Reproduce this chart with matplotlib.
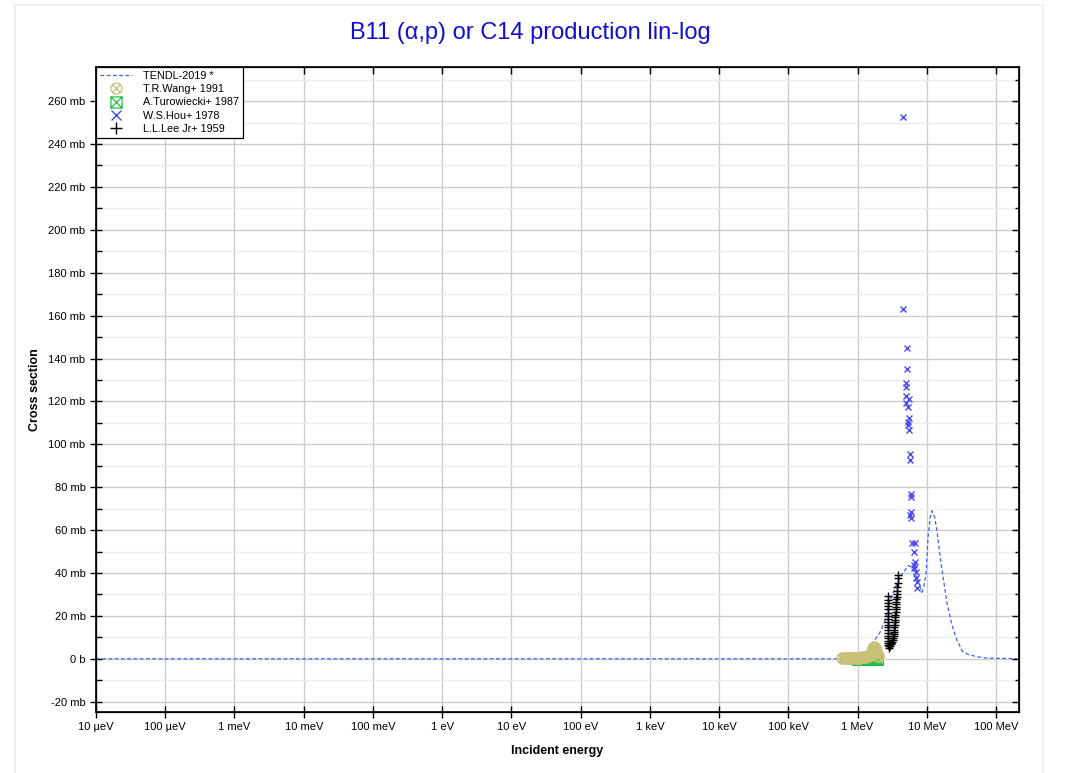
import matplotlib
matplotlib.use("Agg")
import matplotlib.pyplot as plt
from matplotlib.patches import Rectangle
from matplotlib.path import Path
from matplotlib.ticker import FixedLocator, FuncFormatter, MultipleLocator, NullFormatter

plt.rcParams["font.family"] = ["Liberation Sans", "DejaVu Sans"]

# TENDL-2019 evaluation (energy in eV, cross section in mb)
tendl_e = [1e-5, 1e3, 1e5, 9.0e5, 1.0e6, 1.2e6, 1.4e6, 1.66e6, 2.0e6, 2.2e6, 2.5e6,
           2.76e6, 3.2e6, 3.7e6, 4.3e6, 4.9e6, 5.4e6, 6.2e6, 7.2e6, 8.0e6, 8.5e6,
           9.0e6, 9.8e6, 10.4e6, 11.2e6, 11.9e6, 13.0e6, 14.0e6, 16.0e6, 19.6e6,
           23.0e6, 27.0e6, 33.0e6, 40.0e6, 53.0e6, 70.0e6, 100.0e6, 200.0e6]
tendl_xs = [0.0, 0.0, 0.0, 0.0, 0.3, 2.0, 4.0, 7.5, 11.0, 13.5, 18.0,
            24.0, 30.0, 35.0, 39.0, 41.5, 43.5, 42.5, 38.0, 33.5, 31.0,
            33.0, 40.0, 56.0, 66.0, 69.0, 66.0, 60.0, 45.0, 26.0,
            16.0, 9.0, 3.3, 2.0, 1.0, 0.4, 0.2, 0.1]

# T.R.Wang+ 1991
wang_e = [0.60e6, 0.64e6, 0.68e6, 0.72e6, 0.76e6, 0.80e6, 0.85e6, 0.90e6, 0.95e6,
          1.00e6, 1.05e6, 1.10e6, 1.16e6, 1.22e6, 1.28e6, 1.34e6, 1.40e6, 1.46e6,
          1.52e6, 1.57e6, 1.62e6, 1.66e6, 1.70e6, 1.74e6, 1.78e6, 1.82e6, 1.86e6,
          1.90e6, 1.95e6, 2.0e6]
wang_xs = [0.4, 0.5, 0.4, 0.5, 0.4, 0.5, 0.4, 0.5, 0.5, 0.6, 0.5, 0.6, 0.7, 0.7,
           0.8, 0.9, 1.1, 1.4, 1.9, 2.5, 3.3, 4.1, 4.9, 5.7, 5.1, 3.9, 2.7, 1.9,
           1.4, 1.1]

# A.Turowiecki+ 1987
turo_e = [0.98e6, 1.05e6, 1.12e6, 1.20e6, 1.28e6, 1.36e6, 1.45e6, 1.55e6, 1.65e6,
          1.75e6, 1.85e6, 1.95e6]
turo_xs = [-0.5, -0.5, -0.5, -0.5, -0.5, -0.5, -0.5, -0.5, -0.4, -0.4, -0.4, -0.4]

# W.S.Hou+ 1978
hou_e = [4.54e6, 4.61e6, 5.19e6, 5.19e6, 5.01e6, 5.01e6, 5.01e6, 5.54e6, 5.01e6,
         5.36e6, 5.54e6, 5.36e6, 5.36e6, 5.54e6, 5.73e6, 5.73e6, 5.92e6, 5.92e6,
         5.92e6, 5.73e6, 5.92e6, 6.12e6, 6.77e6, 6.55e6, 6.77e6, 6.55e6, 6.55e6,
         7.0e6, 7.0e6, 7.23e6, 7.23e6]
hou_xs = [252.6, 163.1, 144.9, 135.2, 128.7, 126.8, 122.6, 121.2, 119.3, 117.5,
          112.3, 110.4, 109.0, 106.7, 95.5, 92.7, 76.9, 75.5, 68.5, 67.1, 65.7,
          54.0, 54.0, 49.8, 45.2, 43.8, 42.4, 40.5, 37.7, 35.9, 33.1]

# L.L.Lee Jr+ 1959
lee_e = [2.86e6, 2.82e6, 2.78e6, 2.76e6, 2.74e6, 2.73e6, 2.73e6, 2.72e6, 2.72e6,
         2.72e6, 2.71e6, 2.71e6, 2.71e6, 2.71e6, 2.72e6, 2.72e6, 2.72e6, 2.73e6,
         2.73e6, 2.74e6, 2.92e6, 3.00e6, 3.08e6,
         3.16e6, 3.22e6, 3.28e6, 3.32e6, 3.36e6, 3.38e6, 3.40e6, 3.42e6, 3.44e6,
         3.46e6, 3.48e6, 3.50e6, 3.52e6, 3.54e6, 3.56e6, 3.58e6, 3.60e6, 3.62e6,
         3.64e6, 3.66e6, 3.68e6, 3.70e6, 3.74e6, 3.78e6, 3.82e6, 3.86e6]
lee_xs = [5.0, 5.8, 6.6, 7.5, 8.5, 9.6, 10.8, 12.0, 13.3, 14.6, 15.9, 17.3, 18.7,
          20.1, 21.5, 23.0, 24.5, 26.0, 27.5, 29.5, 6.0, 6.8, 7.4,
          8.0, 8.8, 9.6, 10.5, 11.5, 12.5, 13.6, 14.7, 15.8, 17.0, 18.2, 19.4,
          20.6, 21.8, 23.0, 24.2, 25.4, 26.6, 27.8, 29.0, 30.3, 31.6, 33.5,
          35.5, 37.5, 39.3]

xtick_values = [1e-5, 1e-4, 1e-3, 1e-2, 1e-1, 1e0, 1e1, 1e2, 1e3, 1e4, 1e5, 1e6, 1e7, 1e8]
xtick_labels = ["10 µeV", "100 µeV", "1 meV", "10 meV", "100 meV", "1 eV", "10 eV",
                "100 eV", "1 keV", "10 keV", "100 keV", "1 MeV", "10 MeV", "100 MeV"]


def ytick_label(value, _pos):
    if abs(value) < 1e-9:
        return "0 b"
    return f"{value:g} mb"


def crossed_marker(outline):
    d = 0.7 if outline == "circle" else 1.0
    diag = Path([(-d, -d), (d, d), (-d, d), (d, -d)],
                [Path.MOVETO, Path.LINETO, Path.MOVETO, Path.LINETO])
    if outline == "circle":
        shape = Path.unit_circle()
    else:
        shape = Path([(-1, -1), (1, -1), (1, 1), (-1, 1), (-1, -1)],
                     [Path.MOVETO, Path.LINETO, Path.LINETO, Path.LINETO, Path.CLOSEPOLY])
    return Path.make_compound_path(shape, diag)


fig = plt.figure(figsize=(10.67, 7.73), dpi=100)
fig.patches.append(Rectangle((14.5 / 1067, -0.05), 1028.5 / 1067, 1.05 - 5 / 773,
                             transform=fig.transFigure, fill=False,
                             edgecolor="#efefef", linewidth=1.5, zorder=0))
ax = fig.add_axes([96 / 1067, 1 - 712 / 773, (1019 - 96) / 1067, (712 - 67) / 773])

ax.plot(tendl_e, tendl_xs, linestyle=(0, (3, 2)), color="#4063e6", linewidth=0.9,
        label="TENDL-2019 *", zorder=3)
ax.plot(turo_e, turo_xs, linestyle="none", marker=crossed_marker("square"),
        markersize=7, markerfacecolor="none", markeredgewidth=0.9,
        color="#1fc040", label="A.Turowiecki+ 1987", zorder=3)
ax.plot(wang_e, wang_xs, linestyle="none", marker=crossed_marker("circle"),
        markersize=8, markerfacecolor="none", markeredgewidth=0.9,
        color="#c8c077", label="T.R.Wang+ 1991", zorder=4)
ax.plot(hou_e, hou_xs, linestyle="none", marker="x", markersize=4.5,
        markeredgewidth=1.0, color="#4b4bf0", label="W.S.Hou+ 1978", zorder=5)
ax.plot(lee_e, lee_xs, linestyle="none", marker="+", markersize=5.5,
        markeredgewidth=1.0, color="black", label="L.L.Lee Jr+ 1959", zorder=5)

ax.set_xscale("log")
ax.set_xlim(1e-5, 2.15e8)
ax.set_ylim(-24.8, 275.9)

ax.set_xticks(xtick_values)
ax.set_xticklabels(xtick_labels)
ax.xaxis.set_minor_locator(FixedLocator([]))
ax.yaxis.set_major_locator(MultipleLocator(20))
ax.yaxis.set_minor_locator(MultipleLocator(10))
ax.yaxis.set_major_formatter(FuncFormatter(ytick_label))

ax.grid(True, which="major", color="#cccccc", linewidth=1.0, zorder=0)
ax.grid(True, which="minor", axis="y", color="#ececec", linewidth=1.0, zorder=0)
ax.set_axisbelow(True)

ax.tick_params(which="major", direction="inout", length=9, width=1.0,
               labelsize=8, color="black", pad=3)
ax.tick_params(which="minor", direction="in", length=4, width=1.0)
for spine in ax.spines.values():
    spine.set_linewidth(1.2)
    spine.set_color("black")

# inward ticks on the right and top edges
right = ax.twinx()
right.set_ylim(ax.get_ylim())
right.yaxis.set_major_locator(MultipleLocator(20))
right.yaxis.set_minor_locator(MultipleLocator(10))
right.yaxis.set_major_formatter(NullFormatter())
right.tick_params(which="major", direction="in", length=5, width=1.0)
right.tick_params(which="minor", direction="in", length=3, width=1.0)
top = ax.twiny()
top.set_xscale("log")
top.set_xlim(ax.get_xlim())
top.set_xticks(xtick_values)
top.set_xticklabels([])
top.xaxis.set_minor_locator(FixedLocator([]))
top.tick_params(which="major", direction="in", length=5, width=1.0)

ax.set_xlabel("Incident energy", fontsize=9, fontweight="bold", labelpad=9)
ax.set_ylabel("Cross section", fontsize=9, fontweight="bold", labelpad=5)

fig.text(0.497, 1 - 33 / 773, "B11 (α,p) or C14 production lin-log",
         ha="center", va="center", fontsize=17, color="#1010cc")

handles, labels = ax.get_legend_handles_labels()
order = [0, 2, 1, 3, 4]
legend = top.legend([handles[i] for i in order], [labels[i] for i in order],
                    loc="upper left", fontsize=7.8, frameon=True, fancybox=False,
                    edgecolor="black", framealpha=1, borderaxespad=0,
                    handlelength=3.0, handletextpad=1.0, labelspacing=0.3,
                    borderpad=0.35, numpoints=1)
legend.get_frame().set_linewidth(0.9)
legend_sizes = [None, 8, 8, 6.5, 8]
for handle, size in zip(legend.legend_handles, legend_sizes):
    if size is not None:
        handle.set_markersize(size)

fig.savefig("out.png", dpi=100)
